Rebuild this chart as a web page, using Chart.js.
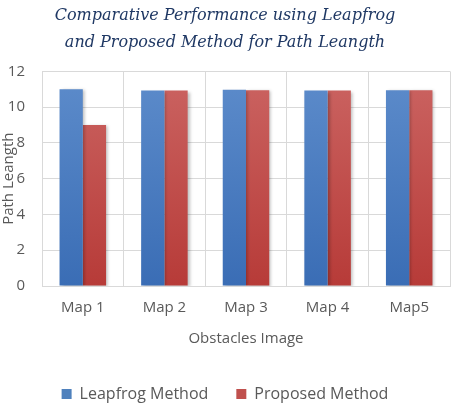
<!DOCTYPE html>
<html><head><meta charset="utf-8">
<script src="https://cdn.jsdelivr.net/npm/chart.js@4"></script>
<style>html,body{margin:0;padding:0;background:#fff}#wrap{width:456px;height:412px}</style>
</head><body><div id="wrap"><canvas id="c" width="456" height="412"></canvas></div>
<script>
const categories = ["Map 1","Map 2","Map 3","Map 4","Map5"];
const leapfrog = [11.0, 10.93, 10.97, 10.93, 10.95];
const proposed = [9.0, 10.93, 10.95, 10.93, 10.95];
const titleLines = ["Comparative Performance using Leapfrog","and Proposed Method for Path Leangth"];

function grad(top, bottom){
  return function(ctx){
    const ch = ctx.chart; const a = ch.chartArea;
    if(!a) return bottom;
    const g = ch.ctx.createLinearGradient(0, a.top, 0, a.bottom);
    g.addColorStop(0, top); g.addColorStop(1, bottom);
    return g;
  };
}
const shadowPlugin = {
  id:'shadow',
  beforeDatasetsDraw(chart){ const c=chart.ctx; c.save(); c.shadowColor='rgba(0,0,0,0.25)'; c.shadowBlur=3; c.shadowOffsetX=2; c.shadowOffsetY=1; },
  afterDatasetsDraw(chart){ chart.ctx.restore(); }
};
const axisFont = {family:"'Open Sans', 'Noto Sans', sans-serif", size:15};
new Chart(document.getElementById('c'), {
  type:'bar',
  data:{labels:categories, datasets:[
    {label:'Leapfrog Method', data:leapfrog, backgroundColor:grad('#5d8ccb','#3a6db5'), borderWidth:0},
    {label:'Proposed Method', data:proposed, backgroundColor:grad('#cb6462','#b73b38'), borderWidth:0}
  ]},
  options:{
    responsive:false, animation:false,
    layout:{padding:{left:0,right:6,top:2,bottom:0}},
    datasets:{bar:{barPercentage:1, categoryPercentage:0.57}},
    plugins:{
      title:{display:true, text:titleLines, color:'#1f3864', font:{family:"'DejaVu Serif', serif", style:'italic', weight:'normal', size:16, lineHeight:1.7}, padding:{top:0,bottom:15}},
      legend:{position:'bottom', labels:{color:'#595959', font:{family:"'Open Sans', sans-serif", size:16}, boxWidth:10, boxHeight:10, padding:28,
        generateLabels(chart){ return chart.data.datasets.map((d,i)=>({text:d.label, fillStyle:i?'#c0504d':'#4f81bd', strokeStyle:'transparent', lineWidth:0, datasetIndex:i, fontColor:'#595959'})); }}},
      tooltip:{enabled:false}
    },
    scales:{
      x:{grid:{color:'#d9d9d9', offset:true, drawTicks:false}, border:{color:'#d9d9d9'},
         ticks:{color:'#595959', font:axisFont, padding:13},
         title:{display:true, text:'Obstacles Image', color:'#595959', font:axisFont, padding:{top:0,bottom:10}}},
      y:{min:0, max:12, grid:{color:'#d9d9d9', drawTicks:false}, border:{color:'#d9d9d9'},
         ticks:{stepSize:2, color:'#595959', font:axisFont, padding:17},
         title:{display:true, text:'Path Leangth', color:'#595959', font:axisFont, padding:{top:0,bottom:0}},
         afterFit(scale){ scale.width = 42; }}
    }
  },
  plugins:[shadowPlugin]
});
</script></body></html>
